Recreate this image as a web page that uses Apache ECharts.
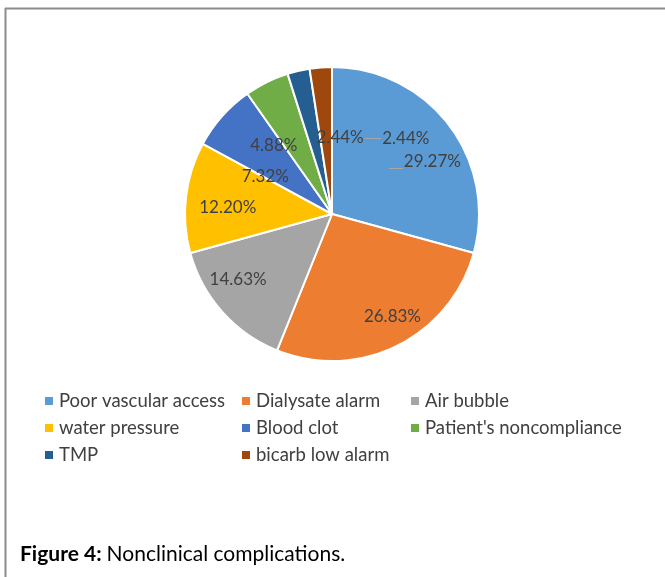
<!DOCTYPE html>
<html>
<head>
<meta charset="utf-8">
<script src="https://cdn.jsdelivr.net/npm/echarts@6/dist/echarts.min.js"></script>
<style>
html,body{margin:0;padding:0;background:#fff;}
#chart{width:665px;height:577px;}
</style>
</head>
<body>
<div id="chart"></div>
<script>
const categories = ['Poor vascular access', 'Dialysate alarm', 'Air bubble', 'water pressure', 'Blood clot', "Patient's noncompliance", 'TMP', 'bicarb low alarm'];
const percents = [29.27, 26.83, 14.63, 12.20, 7.32, 4.88, 2.44, 2.44];
const colors = ['#5B9BD5', '#ED7D31', '#A5A5A5', '#FFC000', '#4472C4', '#70AD47', '#255E91', '#9E480E'];
const legendColumns = [
  ['Poor vascular access', 'water pressure', 'TMP'],
  ['Dialysate alarm', 'Blood clot', 'bicarb low alarm'],
  ['Air bubble', "Patient's noncompliance"]
];
const captionBold = 'Figure 4:';
const captionText = 'Nonclinical complications.';

// label placement (style only): radius fraction, angle (deg clockwise from top), leader length, leader dy
const labelSpots = [
  [0.77, 62.5, 15, 6],
  [0.81, 149.5, 0, 0],
  [0.78, 235, 0, 0],
  [0.71, 273.3, 0, 0],
  [0.52, 299.3, 0, 0],
  [0.61, 319.5, 0, 0],
  [0.52, 6.1, 0, 0],
  [0.72, 44.2, 18, 0]
];
const CX = 332, CY = 214, R = 147;
const LABEL_FONT = '17px Lato';

const fmt = v => v.toFixed(2) + '%';
function spotXY(i) {
  const s = labelSpots[i];
  const a = s[1] * Math.PI / 180;
  return [CX + s[0] * R * Math.sin(a), CY - s[0] * R * Math.cos(a)];
}
const measureCtx = document.createElement('canvas').getContext('2d');
measureCtx.font = LABEL_FONT;

// leader lines next to labels (derived from label placement)
const leaderLines = [];
labelSpots.forEach((s, i) => {
  if (s[2] > 0) {
    const p = spotXY(i);
    const w = measureCtx.measureText(fmt(percents[i])).width;
    const left = p[0] - w / 2;
    leaderLines.push({
      type: 'line', silent: true, z: 10,
      shape: {x1: left - s[2], y1: Math.round(p[1] + s[3]) + 0.5, x2: left - 1, y2: Math.round(p[1] + s[3]) + 0.5},
      style: {stroke: '#a6a6a6', lineWidth: 1}
    });
  }
});

const chart = echarts.init(document.getElementById('chart'), null, {renderer: 'canvas'});

const pieData = categories.map((c, i) => ({
  name: c,
  value: percents[i],
  itemStyle: {color: colors[i]}
}));

const legends = legendColumns.map((col, k) => ({
  orient: 'vertical',
  left: [38, 235, 404][k],
  top: 386,
  padding: 5,
  data: col,
  icon: 'rect',
  itemWidth: 10,
  itemHeight: 10,
  itemGap: 7,
  selectedMode: false,
  textStyle: {fontFamily: 'Lato', fontSize: 18.5, color: '#404040', lineHeight: 20}
}));

chart.setOption({
  animation: false,
  color: colors,
  title: {
    left: 15,
    top: 539,
    text: '{b|' + captionBold + '} {n|' + captionText + '}',
    textStyle: {
      fontWeight: 'normal',
      rich: {
        b: {fontFamily: 'Lato', fontWeight: 'bold', fontSize: 21, color: '#000'},
        n: {fontFamily: 'Lato', fontWeight: 'normal', fontSize: 21, color: '#000'}
      }
    }
  },
  legend: legends,
  graphic: [
    {type: 'line', shape: {x1: 5, y1: 8.5, x2: 665, y2: 8.5}, style: {stroke: '#8c8c8c', lineWidth: 2}, silent: true},
    {type: 'line', shape: {x1: 5.5, y1: 8, x2: 5.5, y2: 577}, style: {stroke: '#8c8c8c', lineWidth: 2}, silent: true}
  ].concat(leaderLines),
  series: [{
    type: 'pie',
    center: [CX, CY],
    radius: [0, R],
    startAngle: 90,
    clockwise: true,
    avoidLabelOverlap: false,
    itemStyle: {borderColor: '#fff', borderWidth: 2},
    label: {
      show: true,
      position: 'inside',
      formatter: p => fmt(p.value),
      fontFamily: 'Lato',
      fontSize: 17,
      color: '#404040'
    },
    labelLine: {show: false},
    labelLayout: function (params) {
      const p = spotXY(params.dataIndex);
      return {x: p[0], y: p[1], align: 'center', verticalAlign: 'middle'};
    },
    emphasis: {disabled: true},
    data: pieData
  }]
});
</script>
</body>
</html>
